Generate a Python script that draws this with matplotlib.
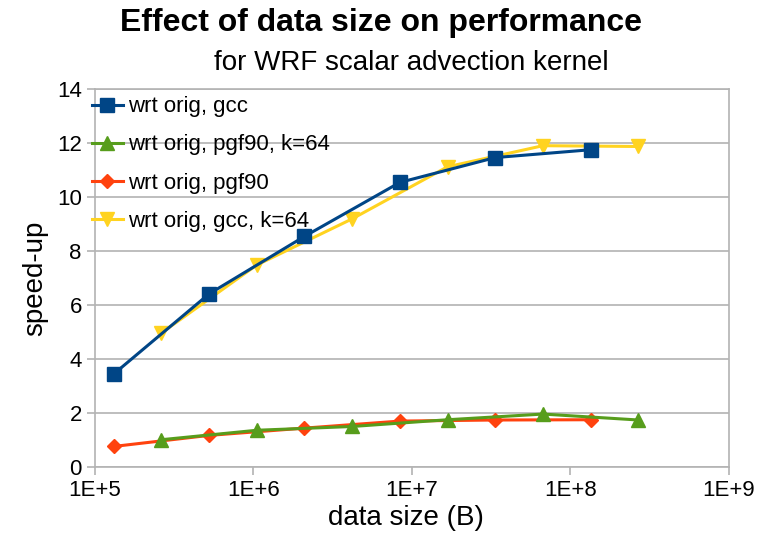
import matplotlib
matplotlib.use('Agg')
import matplotlib.pyplot as plt

plt.rcParams['font.family'] = ['Liberation Sans', 'DejaVu Sans']

# data sizes in bytes
size_a = [131072, 524288, 2097152, 8388608, 33554432, 134217728]
size_b = [262144, 1048576, 4194304, 16777216, 67108864, 268435456]

gcc = [3.44, 6.41, 8.54, 10.54, 11.46, 11.75]
pgf90_k64 = [1.01, 1.36, 1.50, 1.75, 1.96, 1.74]
pgf90 = [0.76, 1.17, 1.44, 1.70, 1.74, 1.75]
gcc_k64 = [4.96, 7.48, 9.19, 11.12, 11.90, 11.87]

x_ticks = [1e5, 1e6, 1e7, 1e8, 1e9]
x_labels = ["1E+5", "1E+6", "1E+7", "1E+8", "1E+9"]
y_ticks = [0, 2, 4, 6, 8, 10, 12, 14]

grey = '#b3b3b3'

fig = plt.figure(figsize=(7.58, 5.38), dpi=100)
ax = fig.add_axes([0.1253, 0.132, 0.8364, 0.7026])

# later series are drawn underneath, as in the original chart
ax.plot(size_a, gcc, color='#004586', lw=2.2, marker='s', ms=10, label='wrt orig, gcc', zorder=6)
ax.plot(size_b, pgf90_k64, color='#579d1c', lw=2.2, marker='^', ms=10, label='wrt orig, pgf90, k=64', zorder=5)
ax.plot(size_a, pgf90, color='#ff420e', lw=2.2, marker='D', ms=7, label='wrt orig, pgf90', zorder=4)
ax.plot(size_b, gcc_k64, color='#ffd320', lw=2.2, marker='v', ms=10, label='wrt orig, gcc, k=64', zorder=3)

ax.set_xscale('log')
ax.set_xlim(1e5, 1e9)
ax.set_ylim(0, 14)
ax.set_xticks(x_ticks)
ax.set_xticklabels(x_labels)
ax.xaxis.set_minor_locator(matplotlib.ticker.NullLocator())
ax.set_yticks(y_ticks)

ax.grid(axis='y', color=grey, lw=1.2)
ax.set_axisbelow(True)
for s in ax.spines.values():
    s.set_color(grey)
    s.set_linewidth(1.2)
ax.tick_params(colors=grey, labelcolor='black', labelsize=16, length=6, width=1.2)

ax.set_xlabel('data size (B)', fontsize=20, labelpad=2)
ax.xaxis.set_label_coords(0.49, -0.1)
ax.set_ylabel('speed-up', fontsize=20, labelpad=6)

fig.text(0.503, 0.958, 'Effect of data size on performance', ha='center', va='center',
         fontsize=23, fontweight='bold')
fig.text(0.543, 0.882, 'for WRF scalar advection kernel', ha='center', va='center', fontsize=20)

ax.legend(loc='upper left', bbox_to_anchor=(0.118, 0.825), bbox_transform=fig.transFigure,
          frameon=False, fontsize=16, handlelength=1.4, handletextpad=0.25,
          labelspacing=0.77, borderaxespad=0, borderpad=0.1)

fig.savefig('out.png', dpi=100)
